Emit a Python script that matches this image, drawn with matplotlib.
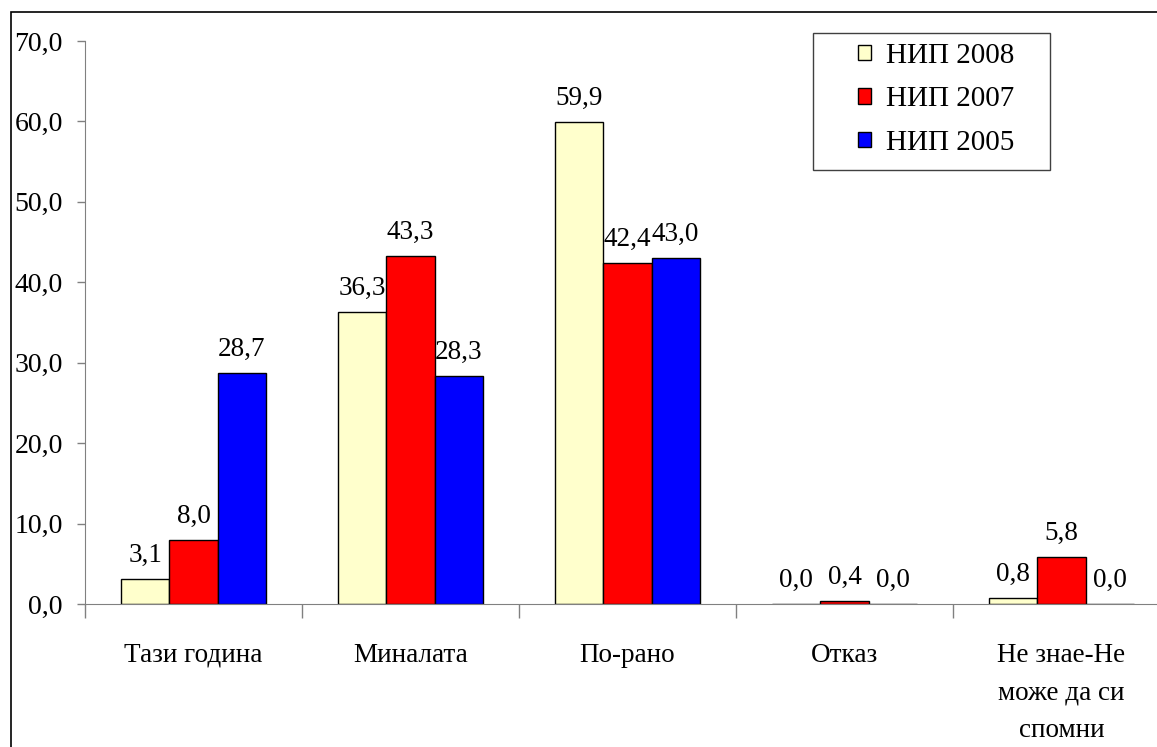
import numpy as np
import matplotlib.pyplot as plt
from matplotlib.patches import Rectangle
from matplotlib.ticker import FixedLocator, FuncFormatter

plt.rcParams["font.family"] = ["Liberation Serif", "DejaVu Serif"]

categories = ["Тази година", "Миналата", "По-рано", "Отказ", "Не знае-Не\nможе да си\nспомни"]
series_names = ["НИП 2008", "НИП 2007", "НИП 2005"]
nip2008 = [3.1, 36.3, 59.9, 0.0, 0.8]
nip2007 = [8.0, 43.3, 42.4, 0.4, 5.8]
nip2005 = [28.7, 28.3, 43.0, 0.0, 0.0]
colors = ["#FFFFCC", "#FF0000", "#0000FF"]

W, H = 1157, 747
fig = plt.figure(figsize=(W / 100, H / 100), dpi=100)
ax = fig.add_axes([85 / W, 1 - 604 / H, 1085 / W, (604 - 41) / H])

# outer frame of the chart area
fig.patches.append(Rectangle((11 / W, -0.01), 1.0, 1 - 12 / H + 0.01,
                             transform=fig.transFigure, fill=False,
                             edgecolor="black", linewidth=1.2, clip_on=False))

x = np.arange(len(categories))
w = 0.222
for i, (vals, name) in enumerate(zip([nip2008, nip2007, nip2005], series_names)):
    pos = x + (i - 1) * w
    ax.bar(pos, vals, width=w, color=colors[i], edgecolor="black",
           linewidth=1.0, label=name)
    for xp, v in zip(pos, vals):
        ax.annotate(f"{v:.1f}".replace(".", ","), (xp, v), xytext=(0, 8),
                    textcoords="offset points", ha="center", va="bottom",
                    fontsize=19.5)

ax.set_xlim(-0.5, len(categories) - 0.5)
ax.set_ylim(0, 70)
ax.set_yticks(np.arange(0, 71, 10))
ax.yaxis.set_major_formatter(FuncFormatter(lambda v, p: f"{v:.1f}".replace(".", ",")))
ax.tick_params(axis="y", direction="out", length=6, width=1, color="#808080",
               labelsize=20, pad=10)

ax.xaxis.set_major_locator(FixedLocator(np.arange(-0.5, len(categories), 1.0)))
ax.xaxis.set_major_formatter(FuncFormatter(lambda v, p: ""))
ax.xaxis.set_minor_locator(FixedLocator(x))
ax.set_xticklabels(categories, minor=True, fontsize=19.5, linespacing=1.65, va="top")
ax.tick_params(axis="x", which="major", direction="out", length=10, width=1,
               color="#808080")
ax.tick_params(axis="x", which="minor", length=0, pad=28)

for s in ["top", "right"]:
    ax.spines[s].set_visible(False)
ax.spines["left"].set_color("#808080")
ax.spines["bottom"].set_color("#808080")

# legend box drawn separately (wide left padding as in the original)
fig.patches.append(Rectangle((813 / W, 1 - 170 / H), 237 / W, 137 / H,
                             transform=fig.transFigure, facecolor="white",
                             edgecolor="#404040", linewidth=1.0, zorder=5))
leg = fig.legend(loc="upper left", bbox_to_anchor=(858 / W, 1 - 43 / H),
                 fontsize=21, frameon=False,
                 handlelength=0.45, handleheight=0.45, handletextpad=0.5,
                 labelspacing=0.6, borderpad=0, borderaxespad=0)
leg.set_zorder(6)

fig.savefig("out.png", dpi=100)
